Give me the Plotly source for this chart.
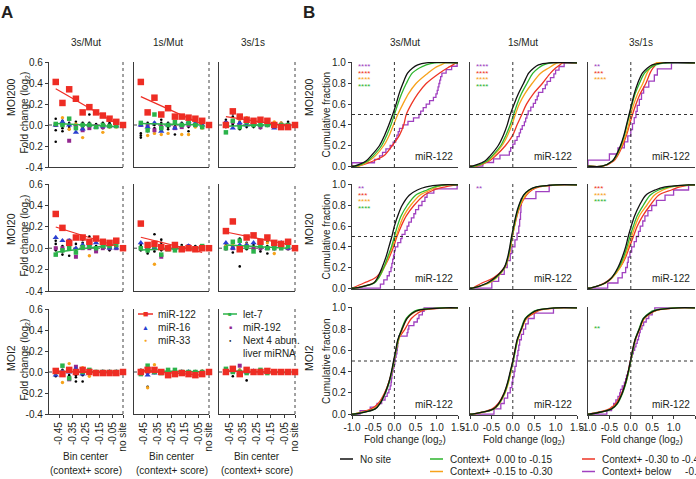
import plotly.graph_objects as go
import numpy as np

W, H = 696, 479
FONT = "Liberation Sans, Arial, sans-serif"
AX = "#3a3a3a"
TXT = "#231f20"

# ---------------- data: panel A (fold change by context+ bin) ----------------
comparisons = ["3s/Mut", "1s/Mut", "3s/1s"]
mois = ["MOI200", "MOI20", "MOI2"]
# bin positions on the context+ axis (last one = "no site")
bins = [-0.475, -0.425, -0.375, -0.325, -0.275, -0.225, -0.175, -0.125, -0.075, -0.025, 0.025]
bin_tickvals = [-0.45, -0.35, -0.25, -0.15, -0.05, 0.025]
bin_ticktext = ["-0.45", "-0.35", "-0.25", "-0.15", "-0.05", "no site"]

# [row(MOI)][col(comparison)] -> one value per bin
mir122 = [
    [[0.41, 0.21, 0.34, 0.25, 0.12, 0.17, 0.12, 0.09, 0.06, 0.03, 0.0],
     [0.41, 0.12, 0.26, 0.10, 0.16, 0.08, 0.08, 0.07, 0.06, 0.04, 0.0],
     [0.00, 0.13, 0.08, 0.05, 0.04, 0.05, 0.04, 0.00, -0.02, -0.02, 0.0]],
    [[0.32, 0.19, 0.05, 0.10, 0.10, 0.06, 0.09, 0.06, 0.05, 0.07, 0.0],
     [0.23, 0.03, 0.04, 0.01, 0.00, 0.03, -0.01, 0.00, -0.01, 0.00, 0.0],
     [0.16, 0.25, -0.01, 0.10, 0.12, 0.06, 0.10, 0.05, 0.04, 0.06, 0.0]],
    [[0.01, -0.02, 0.02, 0.00, 0.02, 0.00, -0.01, -0.01, -0.01, -0.01, 0.0],
     [0.00, 0.02, 0.02, 0.00, -0.03, -0.02, -0.01, -0.02, -0.03, -0.02, 0.0],
     [0.00, 0.03, -0.02, 0.02, 0.00, 0.00, 0.01, 0.00, 0.00, 0.00, 0.0]],
]
mir16 = [
    [[0.00, 0.03, 0.00, -0.07, -0.04, 0.00, -0.02, -0.01, -0.01, -0.01, 0.0],
     [0.00, -0.02, 0.02, -0.06, 0.00, -0.03, 0.00, 0.03, 0.02, 0.00, 0.0],
     [0.02, -0.03, 0.02, 0.00, 0.02, 0.00, 0.00, -0.03, 0.00, 0.00, 0.0]],
    [[0.10, 0.07, 0.07, 0.00, 0.03, 0.03, 0.05, 0.02, 0.00, 0.00, 0.0],
     [0.05, 0.00, 0.00, 0.00, 0.00, 0.00, 0.00, 0.02, 0.00, 0.00, 0.0],
     [0.05, 0.00, 0.03, 0.03, 0.05, 0.02, 0.00, 0.03, 0.05, 0.00, 0.0]],
    [[-0.03, 0.00, 0.00, 0.03, -0.02, 0.00, -0.02, 0.00, 0.00, 0.00, 0.0],
     [0.00, -0.03, -0.01, 0.00, 0.00, -0.03, 0.00, 0.00, -0.04, 0.00, 0.0],
     [0.00, 0.01, 0.00, 0.00, 0.01, 0.00, 0.00, 0.00, 0.00, 0.00, 0.0]],
]
mir33 = [
    [[0.00, 0.07, -0.04, 0.01, -0.12, -0.01, -0.02, -0.07, -0.02, -0.02, 0.0],
     [0.00, -0.10, -0.08, -0.09, -0.08, -0.02, -0.09, -0.09, -0.02, -0.03, 0.0],
     [0.00, 0.03, 0.05, 0.07, 0.02, 0.05, 0.05, 0.03, 0.02, 0.00, 0.0]],
    [[0.00, 0.00, 0.03, 0.00, 0.02, -0.07, 0.00, 0.00, 0.02, 0.00, 0.0],
     [0.00, -0.01, -0.15, 0.00, 0.00, 0.00, 0.01, 0.00, 0.00, 0.01, 0.0],
     [0.02, 0.03, 0.00, 0.04, 0.00, 0.02, 0.05, -0.05, 0.04, 0.05, 0.0]],
    [[0.00, -0.10, 0.08, 0.05, 0.04, -0.04, -0.01, 0.00, 0.00, 0.00, 0.0],
     [0.00, -0.15, 0.07, 0.00, 0.00, 0.00, 0.00, 0.00, 0.00, 0.01, 0.0],
     [0.00, 0.00, 0.02, 0.00, 0.00, 0.01, 0.00, 0.00, 0.00, 0.00, 0.0]],
]
let7 = [
    [[0.01, 0.00, 0.06, -0.03, 0.00, 0.00, -0.02, 0.00, -0.01, -0.01, 0.0],
     [0.02, -0.05, 0.10, -0.03, 0.00, 0.03, 0.00, 0.02, 0.00, -0.02, 0.0],
     [-0.07, 0.04, -0.02, 0.03, 0.00, 0.00, 0.00, 0.00, 0.00, 0.00, 0.0]],
    [[-0.06, -0.02, 0.00, -0.04, 0.01, 0.02, 0.00, 0.02, 0.02, 0.03, 0.0],
     [0.00, -0.02, 0.02, -0.06, -0.01, -0.02, 0.00, 0.00, 0.00, 0.02, 0.0],
     [0.00, 0.06, 0.07, 0.01, -0.03, 0.02, 0.00, 0.00, 0.00, 0.02, 0.0]],
    [[0.00, 0.06, -0.06, 0.00, 0.00, 0.02, 0.00, 0.00, 0.00, 0.00, 0.0],
     [-0.02, 0.06, 0.00, -0.01, 0.02, 0.02, 0.00, 0.00, 0.00, 0.00, 0.0],
     [0.03, 0.00, 0.00, -0.01, 0.00, 0.02, -0.01, 0.00, 0.00, 0.00, 0.0]],
]
mir192 = [
    [[0.00, 0.01, -0.15, -0.02, -0.05, -0.03, -0.01, -0.02, -0.01, 0.00, 0.0],
     [0.00, 0.00, -0.05, -0.02, 0.00, -0.03, -0.02, 0.00, 0.00, 0.00, 0.0],
     [0.02, 0.03, 0.00, 0.02, 0.00, -0.02, 0.00, 0.00, 0.00, 0.00, 0.0]],
    [[0.00, 0.00, 0.07, -0.08, 0.00, 0.00, -0.03, 0.00, 0.00, 0.00, 0.0],
     [0.00, 0.00, 0.00, -0.08, 0.00, 0.00, 0.00, 0.02, 0.00, 0.00, 0.0],
     [0.00, 0.00, 0.00, 0.02, 0.00, 0.00, 0.00, 0.00, 0.00, 0.00, 0.0]],
    [[0.00, 0.00, -0.07, 0.05, 0.00, 0.00, 0.00, 0.00, 0.00, 0.00, 0.0],
     [0.00, 0.00, 0.01, 0.00, 0.00, 0.00, 0.00, 0.00, 0.00, 0.00, 0.0],
     [0.00, 0.00, 0.06, 0.00, 0.00, 0.00, 0.00, 0.00, 0.00, 0.00, 0.0]],
]
# next 4 abundant liver miRNAs: per bin, up to 4 values
next4 = [
    [[[0.06, 0.0, -0.05, -0.16], [0.04, 0.02, -0.03, -0.06], [0.02, 0.0, -0.02, -0.04], [0.03, 0.01, -0.01, -0.03],
      [0.02, -0.02, -0.04, 0.0], [0.10, 0.0, -0.02, 0.02], [0.01, -0.01, -0.02, 0.0], [0.0, 0.02, -0.01, -0.03],
      [0.0, 0.01, -0.02, 0.02], [0.0, -0.01, 0.01, 0.02], []],
     [[-0.08, -0.10, -0.12, 0.0], [0.0, -0.04, -0.06, 0.02], [0.02, -0.03, 0.0, -0.05], [0.05, -0.05, 0.0, 0.02],
      [0.0, -0.02, 0.02, -0.04], [-0.09, 0.0, -0.03, 0.02], [0.0, 0.02, -0.02, 0.01], [-0.06, 0.0, 0.03, -0.02],
      [0.03, 0.0, -0.01, 0.01], [0.0, 0.02, -0.01, 0.0], []],
     [[0.05, 0.02, 0.0, -0.02], [0.11, 0.08, 0.02, 0.0], [0.02, -0.04, 0.0, 0.03], [0.03, 0.0, -0.02, 0.01],
      [0.0, -0.02, 0.02, 0.01], [-0.03, 0.0, 0.02, 0.01], [0.02, 0.0, -0.01, 0.01], [0.0, 0.02, -0.02, 0.01],
      [0.0, 0.01, -0.01, 0.02], [0.03, 0.0, -0.01, 0.01], []]],
    [[[0.07, 0.04, 0.0, -0.02], [-0.03, -0.06, 0.02, 0.0], [-0.07, 0.02, 0.0, 0.04], [0.09, 0.04, 0.0, -0.03],
      [0.08, 0.03, 0.0, 0.05], [0.11, 0.04, 0.0, 0.02], [0.05, 0.02, 0.0, -0.03], [0.03, 0.02, 0.0, 0.05],
      [-0.02, 0.02, 0.0, 0.03], [0.03, 0.0, 0.05, 0.02], []],
     [[0.03, -0.02, 0.0, -0.01], [-0.03, -0.05, 0.0, 0.02], [0.13, 0.03, -0.03, 0.0], [0.08, 0.05, 0.0, -0.02],
      [0.02, -0.01, 0.0, 0.01], [0.0, -0.02, 0.01, 0.02], [0.03, 0.0, -0.01, 0.01], [0.0, 0.01, -0.01, 0.02],
      [0.0, 0.02, -0.01, 0.01], [0.0, 0.01, -0.01, 0.0], []],
     [[0.03, 0.0, -0.01, 0.02], [-0.04, 0.02, 0.0, 0.01], [-0.17, 0.09, 0.03, 0.0], [0.05, 0.0, 0.02, -0.01],
      [0.03, 0.0, -0.02, 0.01], [-0.03, 0.06, 0.0, 0.02], [-0.05, 0.06, 0.0, 0.02], [0.05, 0.0, 0.02, -0.01],
      [0.05, 0.0, 0.02, 0.01], [0.03, 0.0, 0.01, -0.01], []]],
    [[[-0.04, 0.0, 0.02, -0.02], [0.02, 0.0, -0.02, 0.01], [0.03, -0.03, 0.0, 0.01], [-0.03, -0.05, -0.09, 0.0],
      [-0.09, -0.03, 0.0, 0.01], [0.0, -0.01, 0.01, 0.0], [-0.02, 0.0, 0.01, -0.01], [-0.01, 0.0, 0.01, 0.0],
      [0.0, -0.01, 0.01, 0.0], [0.0, 0.01, -0.01, 0.0], []],
     [[0.0, -0.01, 0.02, -0.02], [-0.14, 0.02, 0.0, -0.02], [0.01, -0.01, 0.0, 0.02], [0.0, 0.01, -0.01, 0.0],
      [0.0, -0.01, 0.01, 0.0], [0.0, 0.01, -0.01, 0.0], [0.0, -0.01, 0.01, 0.0], [0.0, 0.01, -0.01, 0.0],
      [0.0, -0.01, 0.01, 0.0], [0.0, 0.01, -0.01, 0.0], []],
     [[0.0, 0.01, -0.01, 0.02], [-0.04, 0.0, 0.01, 0.0], [0.02, -0.01, 0.0, 0.01], [-0.08, 0.0, 0.01, -0.01],
      [0.0, 0.01, -0.01, 0.0], [0.0, -0.01, 0.01, 0.0], [0.0, 0.01, -0.01, 0.0], [0.0, -0.01, 0.01, 0.0],
      [0.0, 0.01, -0.01, 0.0], [0.0, -0.01, 0.01, 0.0], []]],
]

# ---------------- data: panel B (cumulative distributions) ----------------
cdf_levels = [0.0, 0.05, 0.1, 0.2, 0.3, 0.4, 0.5, 0.6, 0.7, 0.8, 0.9, 0.95, 0.98, 1.0]
# fold change (log2) at each cumulative level, [row][col]
no_site = [
    [[-0.95, -0.67, -0.55, -0.35, -0.23, -0.13, -0.04, 0.04, 0.11, 0.20, 0.31, 0.43, 0.55, 0.75],
     [-0.95, -0.65, -0.53, -0.34, -0.22, -0.13, -0.06, 0.03, 0.13, 0.25, 0.37, 0.49, 0.60, 0.84],
     [-0.67, -0.43, -0.35, -0.24, -0.16, -0.10, -0.04, 0.02, 0.08, 0.16, 0.27, 0.39, 0.50, 0.75]],
    [[-0.96, -0.49, -0.40, -0.29, -0.20, -0.13, -0.06, 0.00, 0.08, 0.18, 0.35, 0.54, 0.75, 1.10],
     [-0.95, -0.60, -0.42, -0.20, -0.12, -0.07, -0.03, 0.02, 0.07, 0.14, 0.25, 0.38, 0.55, 1.00],
     [-0.95, -0.60, -0.45, -0.30, -0.20, -0.12, -0.06, 0.01, 0.09, 0.20, 0.35, 0.57, 0.80, 1.35]],
    [[-0.97, -0.45, -0.34, -0.22, -0.13, -0.07, -0.02, 0.03, 0.08, 0.18, 0.30, 0.42, 0.60, 1.20],
     [-0.95, -0.45, -0.33, -0.20, -0.12, -0.06, 0.00, 0.05, 0.10, 0.20, 0.30, 0.44, 0.60, 1.00],
     [-0.97, -0.45, -0.32, -0.20, -0.12, -0.06, -0.01, 0.04, 0.10, 0.20, 0.30, 0.45, 0.62, 1.10]],
]
ctx_000_015 = [
    [[-0.90, -0.63, -0.50, -0.30, -0.18, -0.08, 0.00, 0.08, 0.17, 0.28, 0.42, 0.59, 0.75, 0.95],
     [-0.90, -0.60, -0.48, -0.28, -0.16, -0.06, 0.02, 0.10, 0.20, 0.33, 0.47, 0.60, 0.72, 0.90],
     [-0.67, -0.43, -0.34, -0.23, -0.15, -0.09, -0.03, 0.03, 0.10, 0.20, 0.32, 0.45, 0.58, 0.85]],
    [[-0.95, -0.47, -0.37, -0.25, -0.16, -0.07, 0.00, 0.07, 0.16, 0.30, 0.50, 0.77, 0.95, 1.20],
     [-0.95, -0.58, -0.40, -0.19, -0.11, -0.06, -0.02, 0.03, 0.08, 0.15, 0.26, 0.38, 0.55, 1.00],
     [-0.95, -0.60, -0.45, -0.28, -0.17, -0.09, -0.02, 0.06, 0.15, 0.29, 0.45, 0.65, 0.90, 1.40]],
    [[-0.97, -0.46, -0.34, -0.21, -0.12, -0.06, -0.01, 0.04, 0.09, 0.17, 0.28, 0.40, 0.55, 1.10],
     [-0.95, -0.44, -0.32, -0.19, -0.11, -0.05, 0.01, 0.06, 0.11, 0.19, 0.29, 0.42, 0.58, 1.00],
     [-0.97, -0.44, -0.31, -0.19, -0.11, -0.05, 0.00, 0.05, 0.10, 0.19, 0.29, 0.42, 0.58, 1.00]],
]
ctx_015_030 = [
    [[-0.85, -0.60, -0.45, -0.25, -0.12, -0.02, 0.08, 0.20, 0.33, 0.51, 0.79, 0.95, 1.10, 1.20],
     [-0.88, -0.58, -0.45, -0.25, -0.12, -0.02, 0.06, 0.15, 0.28, 0.45, 0.65, 0.84, 0.95, 1.05],
     [-0.65, -0.42, -0.33, -0.21, -0.12, -0.05, 0.00, 0.07, 0.16, 0.28, 0.38, 0.45, 0.52, 0.60]],
    [[-0.95, -0.50, -0.37, -0.24, -0.14, -0.05, 0.04, 0.12, 0.22, 0.38, 0.60, 0.85, 1.00, 1.25],
     [-0.95, -0.55, -0.38, -0.18, -0.10, -0.05, -0.01, 0.04, 0.09, 0.17, 0.30, 0.42, 0.58, 1.05],
     [-0.95, -0.58, -0.43, -0.25, -0.14, -0.06, 0.02, 0.10, 0.20, 0.37, 0.55, 0.75, 0.95, 1.40]],
    [[-0.97, -0.48, -0.35, -0.22, -0.13, -0.06, -0.01, 0.04, 0.10, 0.19, 0.30, 0.44, 0.62, 1.20],
     [-0.95, -0.43, -0.31, -0.18, -0.10, -0.04, 0.01, 0.06, 0.12, 0.21, 0.32, 0.46, 0.62, 1.05],
     [-0.97, -0.46, -0.33, -0.20, -0.11, -0.05, 0.00, 0.05, 0.11, 0.21, 0.32, 0.47, 0.65, 1.10]],
]
ctx_030_045 = [
    [[-0.85, -0.50, -0.25, -0.05, 0.12, 0.22, 0.28, 0.40, 0.55, 0.75, 1.06, 1.25, 1.38, 1.46],
     [-0.85, -0.55, -0.40, -0.17, 0.00, 0.10, 0.21, 0.32, 0.48, 0.69, 0.88, 1.00, 1.10, 1.16],
     [-0.65, -0.40, -0.31, -0.19, -0.10, -0.03, 0.04, 0.12, 0.22, 0.35, 0.45, 0.52, 0.58, 0.62]],
    [[-1.00, -0.72, -0.45, -0.25, -0.12, -0.02, 0.06, 0.16, 0.28, 0.46, 0.70, 0.93, 1.20, 1.45],
     [-0.95, -0.72, -0.45, -0.20, -0.10, -0.05, -0.01, 0.04, 0.10, 0.18, 0.32, 0.45, 0.62, 1.10],
     [-0.95, -0.62, -0.45, -0.25, -0.12, -0.03, 0.06, 0.15, 0.28, 0.45, 0.65, 0.95, 1.15, 1.45]],
    [[-0.97, -0.55, -0.38, -0.23, -0.13, -0.06, -0.01, 0.04, 0.09, 0.25, 0.40, 0.55, 0.70, 1.30],
     [-0.95, -0.48, -0.34, -0.20, -0.11, -0.05, 0.00, 0.05, 0.11, 0.20, 0.32, 0.50, 0.65, 1.10],
     [-1.00, -0.50, -0.35, -0.21, -0.12, -0.06, -0.01, 0.04, 0.10, 0.20, 0.31, 0.46, 0.62, 1.10]],
]
# context+ below -0.45: individual gene fold changes (few genes -> step curve)
ctx_below_045 = [
    [[-1.0, -0.47, -0.35, -0.28, -0.2, -0.1, -0.03, 0.03, 0.06, 0.09, 0.12, 0.2, 0.32, 0.45, 0.58,
      0.62, 0.68, 0.75, 0.83, 0.92, 0.98, 1.01, 1.03, 1.05, 1.07, 1.09, 1.12, 1.22, 1.35, 1.48],
     [-0.7, -0.45, -0.3, -0.08, -0.05, 0.0, 0.05, 0.1, 0.15, 0.18, 0.22, 0.27, 0.3, 0.33, 0.36,
      0.42, 0.48, 0.53, 0.57, 0.6, 0.7, 0.76, 0.8, 0.88, 0.96, 1.0, 1.08, 1.2],
     [-1.0, -0.5, -0.3, -0.15, -0.07, 0.0, 0.04, 0.08, 0.12, 0.15, 0.2, 0.25, 0.3, 0.42, 0.55, 0.62, 0.95]],
    [[-0.33, -0.25, -0.17, -0.12, -0.08, -0.06, -0.04, -0.02, 0.0, 0.02, 0.08, 0.15, 0.18, 0.25, 0.3,
      0.34, 0.4, 0.46, 0.5, 0.57, 0.65, 0.72, 0.77, 0.93, 1.48],
     [-0.49, -0.33, -0.2, -0.13, -0.06, -0.02, 0.05, 0.1, 0.14, 0.16, 0.18, 0.19, 0.2, 0.54, 0.85],
     [-0.54, -0.3, -0.2, -0.12, -0.08, -0.06, -0.02, 0.02, 0.08, 0.13, 0.18, 0.22, 0.28, 0.33, 0.4,
      0.49, 0.6, 0.8, 1.0, 1.35]],
    [[-0.81, -0.57, -0.41, -0.3, -0.22, -0.17, -0.13, -0.1, -0.08, -0.07, -0.06, -0.05, -0.03, -0.01, 0.01,
      0.02, 0.04, 0.06, 0.07, 0.08, 0.09, 0.1, 0.3, 0.32, 0.34, 0.46, 0.54, 0.58, 0.66, 0.7],
     [-0.44, -0.28, -0.2, -0.12, -0.06, -0.02, 0.0, 0.03, 0.05, 0.08, 0.1, 0.12, 0.14, 0.16, 0.2,
      0.25, 0.3, 0.36, 0.5, 0.95],
     [-0.56, -0.45, -0.4, -0.35, -0.3, -0.26, -0.24, -0.2, -0.15, -0.12, -0.1, -0.07, -0.05, -0.03, -0.01,
      0.0, 0.03, 0.06, 0.09, 0.12, 0.15, 0.18, 0.2, 0.22, 0.26, 0.3, 0.36, 0.42, 0.5, 0.56]],
]
# significance marks per panel: (series, text)
significance = [
    [[("purple", "****"), ("red", "****"), ("orange", "****"), ("green", "****")],
     [("purple", "****"), ("red", "****"), ("orange", "****"), ("green", "****")],
     [("purple", "**"), ("red", "***"), ("orange", "****")]],
    [[("purple", "**"), ("red", "***"), ("orange", "****"), ("green", "****")],
     [("purple", "**")],
     [("red", "***"), ("orange", "****"), ("green", "****")]],
    [[], [], [("green", "**")]],
]
b_ticks = [-1.0, -0.5, 0.0, 0.5, 1.0, 1.5]
b_ticktext = ["-1.0", "-0.5", "0.0", "0.5", "1.0", "1.5"]
frac_ticks = [0.0, 0.2, 0.4, 0.6, 0.8, 1.0]
frac_ticktext = ["0.0", "0.2", "0.4", "0.6", "0.8", "1.0"]
fc_ticks = [-0.4, -0.2, 0.0, 0.2, 0.4, 0.6]
fc_ticktext = ["-0.4", "-0.2", "0.0", "0.2", "0.4", "0.6"]

# ---------------- styling ----------------
CA = dict(red="#ee2d24", blue="#2a3fd0", orange="#f6a31b", green="#2bb34a", purple="#93278f", black="#000000")
CB = dict(black="#111111", green="#2db52d", orange="#f7a21b", red="#ee3524", purple="#a040c0")

A_cols = [(49, 123), (134, 209), (219, 295)]
A_rows = [(62, 167), (184, 291), (309, 414)]
B_cols = [(352, 458), (470, 577), (588, 695)]
B_rows = [(62, 167), (184, 289), (307, 415)]
MOI_Y = [97, 229, 358]
FS = 10

fig = go.Figure()
layout = {}
shapes = []


def ref(n, letter):
    return letter if n == 1 else f"{letter}{n}"


def axkey(n, letter):
    return f"{letter}axis" if n == 1 else f"{letter}axis{n}"


def ann(text, px, py, size=FS, angle=0, xanchor="center", yanchor="middle", color=TXT, bold=False):
    if bold:
        text = f"<b>{text}</b>"
    fig.add_annotation(text=text, x=px / W, y=1 - py / H, xref="paper", yref="paper", showarrow=False,
                       textangle=angle, xanchor=xanchor, yanchor=yanchor,
                       font=dict(size=size, color=color, family=FONT))


def base_axis(**kw):
    d = dict(showline=True, linecolor=AX, linewidth=1.4, showgrid=False, zeroline=False,
             automargin=False, fixedrange=True, ticklen=3, tickwidth=1, tickcolor=AX,
             tickfont=dict(size=FS, color=TXT, family=FONT))
    d.update(kw)
    return d


# ---------------- panel A ----------------
for r in range(3):
    for c in range(3):
        n = r * 3 + c + 1
        xr, yr = ref(n, "x"), ref(n, "y")
        x0, x1 = A_cols[c]
        y0, y1 = A_rows[r]
        xa = base_axis(domain=[x0 / W, x1 / W], anchor=yr, range=[-0.525, 0.025])
        if r == 2:
            xa.update(ticks="outside", tickvals=bin_tickvals, ticktext=bin_ticktext, tickangle=-90,
                      showticklabels=True)
        else:
            xa.update(ticks="", showticklabels=False)
        ya = base_axis(domain=[1 - y1 / H, 1 - y0 / H], anchor=xr, range=[-0.4, 0.6])
        if c == 0:
            ya.update(ticks="outside", tickvals=fc_ticks, ticktext=fc_ticktext, showticklabels=True)
        else:
            ya.update(ticks="", showticklabels=False)
        layout[axkey(n, "x")] = xa
        layout[axkey(n, "y")] = ya

        shapes.append(dict(type="line", xref=f"{xr} domain", yref=f"{yr} domain", x0=1, x1=1, y0=0, y1=1,
                           line=dict(color="#444", width=1, dash="dot"), layer="below"))
        shapes.append(dict(type="line", xref=f"{xr} domain", yref=yr, x0=0, x1=1, y0=0, y1=0,
                           line=dict(color="#444", width=1, dash="dot"), layer="below"))

        # next 4 abundant miRNAs
        xs, ys = [], []
        for i, vals in enumerate(next4[r][c]):
            for v in vals:
                xs.append(bins[i])
                ys.append(v)
        fig.add_trace(go.Scatter(x=xs, y=ys, xaxis=xr, yaxis=yr, mode="markers", cliponaxis=False,
                                 marker=dict(color=CA["black"], size=2.6), showlegend=False, hoverinfo="skip"))
        for vals, col, sym, sz in [(mir33, "orange", "circle", 3.4), (mir192, "purple", "square", 4),
                                   (mir16, "blue", "triangle-up", 5.5)]:
            fig.add_trace(go.Scatter(x=bins, y=vals[r][c], xaxis=xr, yaxis=yr, mode="markers", cliponaxis=False,
                                     marker=dict(color=CA[col], size=sz, symbol=sym, line=dict(width=0)),
                                     showlegend=False, hoverinfo="skip"))
        # let-7 with fit
        fig.add_trace(go.Scatter(x=bins, y=let7[r][c], xaxis=xr, yaxis=yr, mode="markers", cliponaxis=False,
                                 marker=dict(color=CA["green"], size=4.5, symbol="square"),
                                 showlegend=False, hoverinfo="skip"))
        k, b = np.polyfit(bins[:10], let7[r][c][:10], 1)
        fig.add_trace(go.Scatter(x=[bins[0], bins[9]], y=[k * bins[0] + b, k * bins[9] + b], xaxis=xr, yaxis=yr,
                                 mode="lines", line=dict(color=CA["green"], width=1.5),
                                 showlegend=False, hoverinfo="skip"))
        # miR-122 with fit
        fig.add_trace(go.Scatter(x=bins, y=mir122[r][c], xaxis=xr, yaxis=yr, mode="markers", cliponaxis=False,
                                 marker=dict(color=CA["red"], size=6.5, symbol="square"),
                                 showlegend=False, hoverinfo="skip"))
        k, b = np.polyfit(bins[:10], mir122[r][c][:10], 1)
        fig.add_trace(go.Scatter(x=[bins[0], bins[9]], y=[k * bins[0] + b, k * bins[9] + b], xaxis=xr, yaxis=yr,
                                 mode="lines", line=dict(color=CA["red"], width=1.2),
                                 showlegend=False, hoverinfo="skip"))


# ---------------- panel B ----------------
def smooth_xy(q):
    xs, ys = list(q), list(cdf_levels)
    if xs[0] > -1.0:
        xs = [-1.0] + xs
        ys = [0.0] + ys
    if xs[-1] < 1.5:
        xs = xs + [1.5]
        ys = ys + [1.0]
    return xs, ys


def ecdf_xy(vals):
    v = sorted(vals)
    n = len(v)
    return [-1.0] + v + [1.5], [0.0] + [(i + 1) / n for i in range(n)] + [1.0]


for r in range(3):
    for c in range(3):
        n = 10 + r * 3 + c
        xr, yr = ref(n, "x"), ref(n, "y")
        x0, x1 = B_cols[c]
        y0, y1 = B_rows[r]
        xa = base_axis(domain=[x0 / W, x1 / W], anchor=yr, range=[-1.0, 1.5])
        if r == 2:
            xa.update(ticks="outside", tickvals=b_ticks, ticktext=b_ticktext, showticklabels=True)
        else:
            xa.update(ticks="", showticklabels=False)
        ya = base_axis(domain=[1 - y1 / H, 1 - y0 / H], anchor=xr, range=[-0.008, 1.008])
        if c == 0:
            ya.update(ticks="outside", tickvals=frac_ticks, ticktext=frac_ticktext, showticklabels=True)
        else:
            ya.update(ticks="", showticklabels=False)
        layout[axkey(n, "x")] = xa
        layout[axkey(n, "y")] = ya

        shapes.append(dict(type="line", xref=xr, yref=f"{yr} domain", x0=0, x1=0, y0=0, y1=1,
                           line=dict(color="#333", width=1, dash="dot"), layer="above"))
        shapes.append(dict(type="line", xref=f"{xr} domain", yref=yr, x0=0, x1=1, y0=0.5, y1=0.5,
                           line=dict(color="#333", width=1, dash="dot"), layer="above"))

        px_, py_ = ecdf_xy(ctx_below_045[r][c])
        fig.add_trace(go.Scatter(x=px_, y=py_, xaxis=xr, yaxis=yr, mode="lines", line_shape="hv",
                                 line=dict(color=CB["purple"], width=1.3), showlegend=False, hoverinfo="skip"))
        for series, col in [(ctx_030_045, "red"), (ctx_015_030, "orange"), (ctx_000_015, "green"),
                            (no_site, "black")]:
            sx, sy = smooth_xy(series[r][c])
            fig.add_trace(go.Scatter(x=sx, y=sy, xaxis=xr, yaxis=yr, mode="lines", line_shape="spline",
                                     line=dict(color=CB[col], width=1.3, smoothing=0.9),
                                     showlegend=False, hoverinfo="skip"))
        marks = significance[r][c]
        if marks:
            txt = "<br>".join(f"<span style='color:{CB[col]};font-size:8px'>{t}</span>" for col, t in marks)
            ytop = 0.87 if r == 2 else 1.0
            fig.add_annotation(text=txt, x=-0.91, y=ytop, xref=xr, yref=yr, showarrow=False, xanchor="left",
                               yanchor="top", yshift=(0 if r == 2 else 3), align="left",
                               font=dict(size=5, color=TXT, family=FONT))
        fig.add_annotation(text="miR-122", x=1.43, y=0.09, xref=xr, yref=yr, showarrow=False, xanchor="right",
                           yanchor="middle", font=dict(size=FS, color=TXT, family=FONT))

# ---------------- texts ----------------
ann("A", 7, 12, size=17, bold=True)
ann("B", 309, 12, size=17, bold=True)
for c, cx in enumerate([86, 168, 253]):
    ann(comparisons[c], cx, 43)
for c, cx in enumerate([405, 523, 641]):
    ann(comparisons[c], cx, 43)
for r in range(3):
    cy = (A_rows[r][0] + A_rows[r][1]) / 2
    ann(mois[r], 11, MOI_Y[r], size=10.5, angle=-90)
    ann("Fold change (log<sub>2</sub>)", 24, cy - 2, angle=-90)
    cyb = (B_rows[r][0] + B_rows[r][1]) / 2
    ann(mois[r], 309, MOI_Y[r], size=10.5, angle=-90)
    ann("Cumulative fraction", 326, cyb, angle=-90)
for c in range(3):
    cx = (A_cols[c][0] + A_cols[c][1]) / 2
    ann("Bin center", cx, 456)
    ann("(context+ score)", cx, 470)
    cxb = (B_cols[c][0] + B_cols[c][1]) / 2
    ann("Fold change (log<sub>2</sub>)", cxb, 440)

# legend A (drawn as text)
legA1 = [("■", CA["red"], 9, "miR-122", True), ("▲", CA["blue"], 7, "miR-16", False),
         ("●", CA["orange"], 5, "miR-33", False)]
for i, (g, col, sz, lab, line) in enumerate(legA1):
    yy = 314 + 13 * i
    if line:
        shapes.append(dict(type="line", xref="paper", yref="paper", x0=138 / W, x1=153 / W, y0=1 - yy / H,
                           y1=1 - yy / H, line=dict(color=col, width=1.5)))
    ann(g, 145.5, yy, size=sz, color=col)
    ann(lab, 156, yy, xanchor="left")
legA2 = [("■", CA["green"], 6, "let-7", True), ("■", CA["purple"], 5, "miR-192", False),
         ("●", CA["black"], 4, "Next 4 abun.", False)]
for i, (g, col, sz, lab, line) in enumerate(legA2):
    yy = 314 + 13 * i
    if line:
        shapes.append(dict(type="line", xref="paper", yref="paper", x0=223 / W, x1=237 / W, y0=1 - yy / H,
                           y1=1 - yy / H, line=dict(color=col, width=1.5)))
    ann(g, 230, yy, size=sz, color=col)
    ann(lab, 241, yy, xanchor="left")
ann("liver miRNA", 241, 353, xanchor="left")

# legend B
NB = "\u00a0"
legB = [("No site", CB["black"], 340, 459), ("Context+" + NB * 2 + "0.00 to -0.15", CB["green"], 430, 459),
        ("Context+ -0.15 to -0.30", CB["orange"], 430, 471.5), ("Context+ -0.30 to -0.45", CB["red"], 582, 459),
        ("Context+ below" + NB * 5 + "-0.45", CB["purple"], 582, 471.5)]
for lab, col, lx, ly in legB:
    shapes.append(dict(type="line", xref="paper", yref="paper", x0=lx / W, x1=(lx + 13) / W, y0=1 - ly / H,
                       y1=1 - ly / H, line=dict(color=col, width=1.5)))
    ann(lab, lx + 18, ly, xanchor="left")

fig.update_layout(width=W, height=H, margin=dict(l=0, r=0, t=0, b=0), paper_bgcolor="white",
                  plot_bgcolor="white", showlegend=False, shapes=shapes,
                  font=dict(family=FONT, size=FS, color=TXT), **layout)
fig.write_html("out.html", config={"displayModeBar": False},
               post_script="document.body.style.margin='0px';document.body.style.overflow='hidden';")
